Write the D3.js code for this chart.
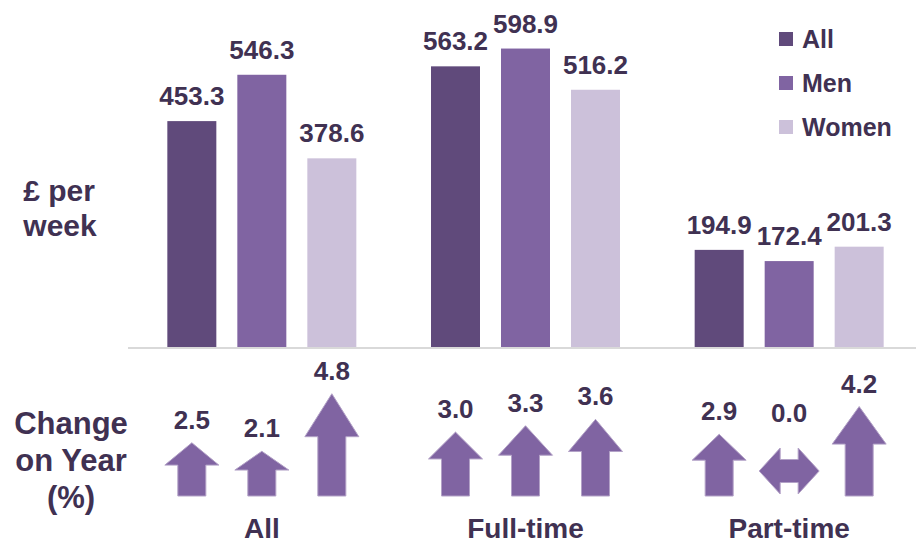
<!DOCTYPE html>
<html lang="en">
<head>
<meta charset="utf-8">
<title>Weekly earnings</title>
<script src="https://d3js.org/d3.v7.min.js"></script>
<style>
  body { margin: 0; background: #fff; }
  svg text { font-family: "Liberation Sans", Arial, sans-serif; font-weight: bold; fill: #403152; }
</style>
</head>
<body>
<div id="chart"></div>
<script>
// data
var groups = ["All", "Full-time", "Part-time"];
var series = ["All", "Men", "Women"];
var pay = [
  [453.3, 546.3, 378.6],
  [563.2, 598.9, 516.2],
  [194.9, 172.4, 201.3]
];
var change = [
  [2.5, 2.1, 4.8],
  [3.0, 3.3, 3.6],
  [2.9, 0.0, 4.2]
];
var colors = ["#604a7b", "#8064a2", "#ccc1da"];

var width = 919, height = 545;
var svg = d3.select("#chart").append("svg")
    .attr("width", width)
    .attr("height", height);

var x0 = d3.scaleBand().domain(groups).range([130, 921]);
var x1 = d3.scaleBand().domain(series).range([-105, 105])
    .paddingInner(0.3).paddingOuter(0.15);
var y = d3.scaleLinear().domain([0, 600]).range([347, 48]);
var len = d3.scaleLinear().domain([0, 5]).range([0, 106.5]);
var arrowBase = 496;

function cx(g) { return x0(g) + x0.bandwidth() / 2; }

// baseline
svg.append("line")
    .attr("x1", 128).attr("x2", 916)
    .attr("y1", y(0) + 1).attr("y2", y(0) + 1)
    .attr("stroke", "#d9d9d9").attr("stroke-width", 2);

var g = svg.selectAll(".grp")
  .data(groups)
  .enter().append("g")
    .attr("class", "grp")
    .attr("transform", function(d) { return "translate(" + cx(d) + ",0)"; });

g.selectAll("rect")
  .data(function(d, i) { return pay[i].map(function(v, j) { return {s: series[j], v: v, j: j}; }); })
  .enter().append("rect")
    .attr("x", function(d) { return x1(d.s); })
    .attr("width", x1.bandwidth())
    .attr("y", function(d) { return y(d.v); })
    .attr("height", function(d) { return y(0) - y(d.v); })
    .attr("fill", function(d) { return colors[d.j]; });

g.selectAll(".val")
  .data(function(d, i) { return pay[i].map(function(v, j) { return {s: series[j], v: v}; }); })
  .enter().append("text")
    .attr("class", "val")
    .attr("x", function(d) { return x1(d.s) + x1.bandwidth() / 2; })
    .attr("y", function(d) { return y(d.v) - 16; })
    .attr("text-anchor", "middle")
    .style("font-size", "26px")
    .text(function(d) { return d.v.toFixed(1); });

// arrows
function upArrow(l) {
  var hw = 27, sw = 14, hh = l * 0.42;
  return "M0," + (-l) + "L" + hw + "," + (-l + hh) + "L" + sw + "," + (-l + hh) +
    "L" + sw + ",0L" + (-sw) + ",0L" + (-sw) + "," + (-l + hh) + "L" + (-hw) + "," + (-l + hh) + "Z";
}
function sideArrow() {
  var w = 30, h = 23, s = 11.5, hl = 21;
  return "M" + (-w) + ",0L" + (-w + hl) + "," + (-h) + "L" + (-w + hl) + "," + (-s) +
    "L" + (w - hl) + "," + (-s) + "L" + (w - hl) + "," + (-h) + "L" + w + ",0L" + (w - hl) + "," + h +
    "L" + (w - hl) + "," + s + "L" + (-w + hl) + "," + s + "L" + (-w + hl) + "," + h + "Z";
}

var a = g.selectAll(".arr")
  .data(function(d, i) { return change[i].map(function(v, j) { return {s: series[j], v: v}; }); })
  .enter().append("g")
    .attr("class", "arr")
    .attr("transform", function(d) {
      var x = x1(d.s) + x1.bandwidth() / 2;
      return "translate(" + x + "," + (d.v === 0 ? 471 : arrowBase) + ")";
    });

a.append("path")
    .attr("d", function(d) { return d.v === 0 ? sideArrow() : upArrow(len(d.v)); })
    .attr("fill", "#8064a2")
    .attr("stroke", "#b3a2c7")
    .attr("stroke-width", 1);

a.append("text")
    .attr("text-anchor", "middle")
    .attr("y", function(d) { return d.v === 0 ? -49 : -len(d.v) - 14; })
    .style("font-size", "26px")
    .text(function(d) { return d.v.toFixed(1); });

// group labels
g.append("text")
    .attr("y", 538)
    .attr("text-anchor", "middle")
    .style("font-size", "28px")
    .text(function(d) { return d; });

// side titles
var t1 = svg.append("text").attr("text-anchor", "middle").style("font-size", "30px");
t1.append("tspan").attr("x", 59).attr("y", 201).text("£ per");
t1.append("tspan").attr("x", 60).attr("y", 236).text("week");

var t2 = svg.append("text").attr("text-anchor", "middle").style("font-size", "31px");
["Change", "on Year", "(%)"].forEach(function(s, i) {
  t2.append("tspan").attr("x", 71).attr("y", 434 + i * 37).text(s);
});

// legend
var lg = svg.selectAll(".lg")
  .data(series)
  .enter().append("g")
    .attr("class", "lg")
    .attr("transform", function(d, i) { return "translate(779," + (32 + i * 44) + ")"; });
lg.append("rect").attr("width", 14).attr("height", 14)
    .attr("fill", function(d, i) { return colors[i]; });
lg.append("text").attr("x", 23).attr("y", 16)
    .style("font-size", "25px")
    .text(function(d) { return d; });
</script>
</body>
</html>
